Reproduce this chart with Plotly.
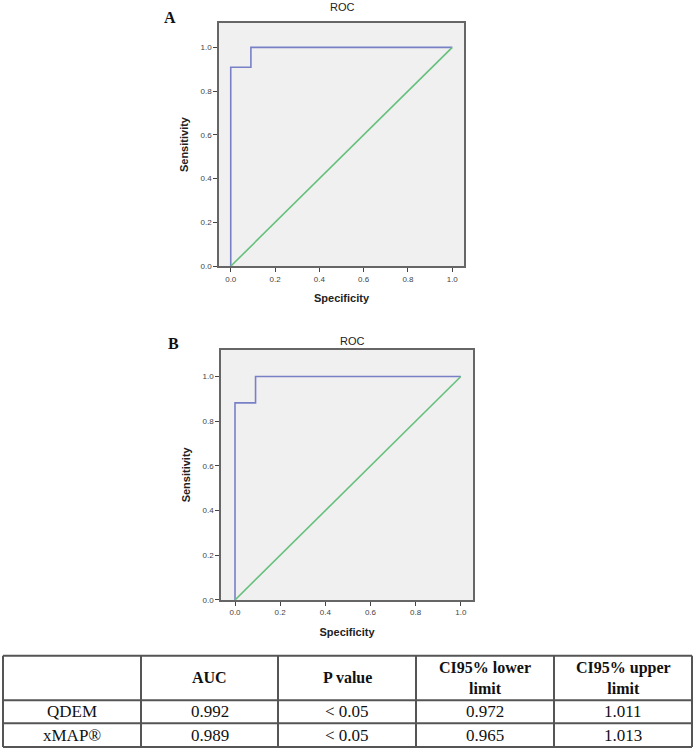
import plotly.graph_objects as go

W, H = 697, 755

# ---- Data ----
roc_a_fpr = [0.0, 0.0, 0.091, 0.091, 1.0]
roc_a_tpr = [0.0, 0.909, 0.909, 1.0, 1.0]
roc_b_fpr = [0.0, 0.0, 0.091, 0.091, 1.0]
roc_b_tpr = [0.0, 0.882, 0.882, 1.0, 1.0]
ref_x = [0.0, 1.0]
ref_y = [0.0, 1.0]
tick_vals = [0.0, 0.2, 0.4, 0.6, 0.8, 1.0]
tick_text = ["0.0", "0.2", "0.4", "0.6", "0.8", "1.0"]

table_header = ["", "<b>AUC</b>", "<b>P value</b>", "<b>CI95% lower<br>limit</b>", "<b>CI95% upper<br>limit</b>"]
row_labels = ["QDEM", "xMAP®"]
auc = ["0.992", "0.989"]
p_value = ["< 0.05", "< 0.05"]
ci_lower = ["0.972", "0.965"]
ci_upper = ["1.011", "1.013"]

def px(x):
    return x / W

def py(y):
    return 1 - y / H

fig = go.Figure()

blue = "#7880c6"
green = "#66c07c"

fig.add_trace(go.Scatter(x=roc_a_fpr, y=roc_a_tpr, mode="lines", line=dict(color=blue, width=1.6),
                         xaxis="x", yaxis="y", showlegend=False))
fig.add_trace(go.Scatter(x=ref_x, y=ref_y, mode="lines", line=dict(color=green, width=1.6),
                         xaxis="x", yaxis="y", showlegend=False))
fig.add_trace(go.Scatter(x=roc_b_fpr, y=roc_b_tpr, mode="lines", line=dict(color=blue, width=1.6),
                         xaxis="x2", yaxis="y2", showlegend=False))
fig.add_trace(go.Scatter(x=ref_x, y=ref_y, mode="lines", line=dict(color=green, width=1.6),
                         xaxis="x2", yaxis="y2", showlegend=False))

sans = "Liberation Sans, Arial, sans-serif"
serif = "Liberation Serif, Times New Roman, serif"

def xaxis_cfg(domain, anchor, rng):
    return dict(domain=domain, anchor=anchor, range=rng, tickvals=tick_vals, ticktext=tick_text,
                ticks="outside", ticklen=4, tickcolor="#444", tickwidth=1,
                tickfont=dict(family=sans, size=8, color="#444"),
                showgrid=False, zeroline=False, showline=True, linecolor="#666", linewidth=1.5, mirror=True,
                title=dict(text="<b>Specificity</b>", font=dict(family=sans, size=11, color="#222"), standoff=12))

def yaxis_cfg(domain, anchor, rng):
    return dict(domain=domain, anchor=anchor, range=rng, tickvals=tick_vals, ticktext=tick_text,
                ticks="outside", ticklen=4, tickcolor="#444", tickwidth=1,
                tickfont=dict(family=sans, size=8, color="#444"),
                showgrid=False, zeroline=False, showline=True, linecolor="#666", linewidth=1.5, mirror=True,
                title=dict(text="<b>Sensitivity</b>", font=dict(family=sans, size=11, color="#222"), standoff=10))

fig.update_layout(
    width=W, height=H, margin=dict(l=0, r=0, t=0, b=0),
    paper_bgcolor="white", plot_bgcolor="#f0f0f0",
    xaxis=xaxis_cfg([px(219), px(464)], "y", [-0.053, 1.053]),
    yaxis=yaxis_cfg([py(268), py(23)], "x", [0, 1.112]),
    xaxis2=xaxis_cfg([px(221), px(473)], "y2", [-0.062, 1.054]),
    yaxis2=yaxis_cfg([py(604), py(352)], "x2", [0, 1.12]),
)

annotations = [
    dict(x=px(342), y=py(7), text="ROC", font=dict(family=sans, size=11, color="#222")),
    dict(x=px(352), y=py(343), text="ROC", font=dict(family=sans, size=11, color="#222")),
    dict(x=px(170), y=py(18), text="<b>A</b>", font=dict(family=serif, size=16, color="#111")),
    dict(x=px(173), y=py(346), text="<b>B</b>", font=dict(family=serif, size=16, color="#111")),
]

# ---- Table ----
col_edges = [3, 141, 278, 416, 554, 692]
row_edges = [660, 705, 728, 752]
shapes = []
lc = "#555"
for xe in col_edges:
    shapes.append(dict(type="line", xref="paper", yref="paper", x0=px(xe), x1=px(xe),
                       y0=py(row_edges[0]), y1=py(row_edges[-1]), line=dict(color=lc, width=2)))
for ye in row_edges:
    shapes.append(dict(type="line", xref="paper", yref="paper", x0=px(col_edges[0]), x1=px(col_edges[-1]),
                       y0=py(ye), y1=py(ye), line=dict(color=lc, width=2)))

def cell_center(ci, ri):
    return px((col_edges[ci] + col_edges[ci + 1]) / 2), py((row_edges[ri] + row_edges[ri + 1]) / 2)

for ci, t in enumerate(table_header):
    if not t:
        continue
    x, y = cell_center(ci, 0)
    annotations.append(dict(x=x, y=y, text=t, font=dict(family=serif, size=16, color="#111")))

body_cols = [row_labels, auc, p_value, ci_lower, ci_upper]
for ci, col in enumerate(body_cols):
    for ri, val in enumerate(col):
        x, y = cell_center(ci, ri + 1)
        annotations.append(dict(x=x, y=y, text=val, font=dict(family=serif, size=17, color="#111")))

for a in annotations:
    a.update(xref="paper", yref="paper", showarrow=False, xanchor="center", yanchor="middle")

fig.update_layout(annotations=annotations, shapes=shapes)
fig.write_html("out.html", config={"displayModeBar": False},
               post_script="document.body.style.margin='0';")
